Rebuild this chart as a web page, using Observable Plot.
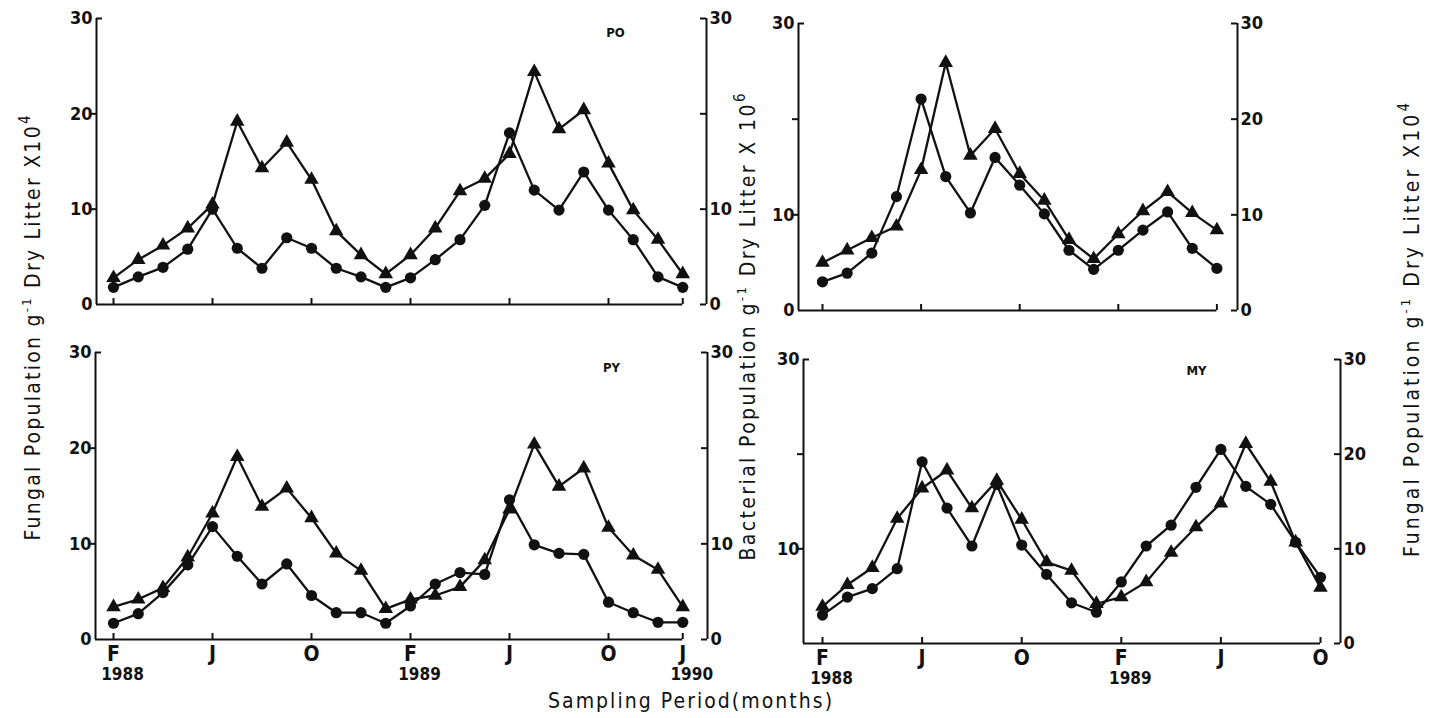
<!DOCTYPE html>
<html>
<head>
<meta charset="utf-8">
<script src="https://cdn.jsdelivr.net/npm/d3@7"></script>
<script src="https://cdn.jsdelivr.net/npm/@observablehq/plot@0.6"></script>
<style>
  html, body { margin: 0; padding: 0; background: #fff; }
  #figure { position: relative; width: 1436px; height: 718px; overflow: hidden; background: #fff; }
  #figure svg { position: absolute; overflow: visible; }
</style>
</head>
<body>
<div id="figure"></div>
<script>
const FONT = '"DejaVu Sans Condensed", "DejaVu Sans", sans-serif';
const INK = "#111";

// Monthly sampling dates, February 1988 to January 1990
const months = [
  "Feb 1988", "Mar 1988", "Apr 1988", "May 1988", "Jun 1988", "Jul 1988",
  "Aug 1988", "Sep 1988", "Oct 1988", "Nov 1988", "Dec 1988", "Jan 1989",
  "Feb 1989", "Mar 1989", "Apr 1989", "May 1989", "Jun 1989", "Jul 1989",
  "Aug 1989", "Sep 1989", "Oct 1989", "Nov 1989", "Dec 1989", "Jan 1990"
];

// Month ticks along the time axis
const tickMonths = ["Feb 1988", "Jun 1988", "Oct 1988", "Feb 1989", "Jun 1989", "Oct 1989", "Jan 1990"];
const tickLetters = ["F", "J", "O", "F", "J", "O", "J"];
const tickYears = ["1988", "", "", "1989", "", "", "1990"];

// Population values (circles and triangles) for each site
const poCircles   = [1.8, 2.9, 3.9, 5.8, 10.0, 5.9, 3.8, 7.0, 5.9, 3.8, 2.9, 1.8, 2.8, 4.7, 6.8, 10.4, 18.0, 12.0, 9.9, 13.9, 9.9, 6.8, 2.9, 1.8];
const poTriangles = [2.8, 4.7, 6.2, 8.0, 10.5, 19.2, 14.3, 17.0, 13.1, 7.7, 5.2, 3.2, 5.2, 8.0, 11.9, 13.2, 15.8, 24.4, 18.4, 20.4, 14.8, 9.9, 6.8, 3.2];

const pyCircles   = [1.7, 2.7, 4.9, 7.8, 11.8, 8.7, 5.8, 7.9, 4.6, 2.8, 2.8, 1.7, 3.5, 5.8, 7.0, 6.8, 14.6, 9.9, 9.0, 8.9, 3.9, 2.8, 1.8, 1.8];
const pyTriangles = [3.4, 4.2, 5.4, 8.6, 13.2, 19.1, 13.9, 15.8, 12.7, 9.0, 7.2, 3.2, 4.2, 4.6, 5.5, 8.3, 13.6, 20.4, 16.0, 17.9, 11.7, 8.8, 7.3, 3.4];

const siteCCircles   = [3.0, 3.9, 6.0, 11.9, 22.1, 14.0, 10.2, 16.0, 13.1, 10.1, 6.3, 4.3, 6.3, 8.4, 10.3, 6.5, 4.4];
const siteCTriangles = [5.0, 6.3, 7.6, 8.8, 14.7, 25.9, 16.2, 19.0, 14.3, 11.5, 7.4, 5.4, 8.0, 10.4, 12.4, 10.2, 8.4];

const myCircles   = [3.0, 4.9, 5.8, 7.9, 19.2, 14.3, 10.3, 16.8, 10.4, 7.3, 4.3, 3.3, 6.5, 10.3, 12.5, 16.5, 20.5, 16.6, 14.7, 10.7, 7.0];
const myTriangles = [3.9, 6.2, 8.0, 13.2, 16.4, 18.3, 14.3, 17.2, 13.1, 8.6, 7.7, 4.2, 4.9, 6.5, 9.6, 12.3, 14.8, 21.1, 17.1, 10.7, 5.9];

const yTicks = [0, 10, 20, 30];

const figure = document.getElementById("figure");

// One panel: a left and a right 0–30 axis around a monthly time axis.
// axes = [left axis x, y of 30, right axis x, y of 0] on the page.
function drawPanel(cfg) {
  const [L, T, R, B] = cfg.axes;
  const {first, step, circles, triangles, tag, tagAt, leftLabels, rightLabels, nTicks, showDates} = cfg;
  const mL = 40, mR = 40, mT = 14, mB = showDates ? 56 : 14;
  const x0 = (L - first) / step, x1 = (R - first) / step;
  const pxPerUnit = (B - T) / 30;
  const tLen = 6;
  const tickIdx = tickMonths.slice(0, nTicks).map(m => months.indexOf(m));
  const letters = tickLetters.slice(0, nTicks);
  const years = tickYears.slice(0, nTicks);
  const lastTick = tickIdx[tickIdx.length - 1];
  const circleRows = circles.map((v, i) => ({month: months[i], i, v}));
  const triangleRows = triangles.map((v, i) => ({month: months[i], i, v}));
  const stroke = {stroke: INK, strokeWidth: 2};
  const numberStyle = {fontSize: 18, fontWeight: "bold", fill: INK};

  const marks = [
    // frame lines
    Plot.ruleX([x0], {y1: 0, y2: 30, ...stroke}),
    Plot.ruleX([x1], {y1: 0, y2: 30, ...stroke}),
    Plot.ruleY([0], {x1: x0, x2: lastTick, ...stroke}),
    // left axis: outward ticks, inward serif on top
    Plot.ruleY([10, 20], {x1: x0 - tLen / step, x2: x0, ...stroke}),
    Plot.ruleY([30], {x1: x0, x2: x0 + tLen / step, ...stroke}),
    // right axis: inward ticks
    Plot.ruleY(yTicks, {x1: x1 - tLen / step, x2: x1, ...stroke}),
    // month ticks pointing up
    Plot.ruleX(tickIdx, {y1: 0, y2: tLen / pxPerUnit, ...stroke}),
    // axis numbers
    Plot.text(leftLabels, {x: x0, y: d => d, text: d => String(d), textAnchor: "end", dx: -4, ...numberStyle}),
    Plot.text(rightLabels, {x: x1, y: d => d, text: d => String(d), textAnchor: "start", dx: 3, ...numberStyle}),
    // series
    Plot.line(triangleRows, {x: "i", y: "v", stroke: INK, strokeWidth: 2.3}),
    Plot.line(circleRows, {x: "i", y: "v", stroke: INK, strokeWidth: 2.3}),
    Plot.dot(circleRows, {x: "i", y: "v", r: 5.6, fill: INK, stroke: null}),
    Plot.dot(triangleRows, {x: "i", y: "v", symbol: "triangle", r: 5.4, fill: INK, stroke: null})
  ];
  if (tag) {
    marks.push(Plot.text([tag], {frameAnchor: "top-left", dx: tagAt[0] - L, dy: tagAt[1] - T, fontSize: 13, fontWeight: "bold", fill: INK, textAnchor: "middle"}));
  }
  if (showDates) {
    marks.push(
      Plot.text(tickIdx, {x: d => d, y: 0, text: (d, i) => letters[i], dy: 15, fontSize: 21, fontWeight: "bold", fill: INK}),
      Plot.text(tickIdx, {x: d => d, y: 0, text: (d, i) => years[i], dy: 35, dx: 9, fontSize: 17, fontWeight: "bold", fill: INK})
    );
  }

  const svg = Plot.plot({
    width: R - L + mL + mR,
    height: B - T + mT + mB,
    marginLeft: mL, marginRight: mR, marginTop: mT, marginBottom: mB,
    x: {domain: [x0, x1], axis: null},
    y: {domain: [0, 30], axis: null},
    style: {background: "transparent", fontFamily: FONT, overflow: "visible"},
    marks
  });
  svg.style.left = (L - mL) + "px";
  svg.style.top = (T - mT) + "px";
  svg.style.maxWidth = "none";
  figure.appendChild(svg);
}

drawPanel({
  axes: [96, 18, 706, 304], first: 113, step: 24.75,
  circles: poCircles, triangles: poTriangles, tag: "PO", tagAt: [615, 27],
  leftLabels: [0, 10, 20, 30], rightLabels: [0, 10, 30], nTicks: 7, showDates: false
});
drawPanel({
  axes: [95, 352, 707, 639], first: 113, step: 24.75,
  circles: pyCircles, triangles: pyTriangles, tag: "PY", tagAt: [611, 362],
  leftLabels: [0, 10, 20, 30], rightLabels: [0, 10, 30], nTicks: 7, showDates: true
});
drawPanel({
  axes: [798, 23, 1237, 310], first: 822, step: 24.65,
  circles: siteCCircles, triangles: siteCTriangles, tag: null,
  leftLabels: [0, 10, 30], rightLabels: [0, 10, 20, 30], nTicks: 5, showDates: false
});
drawPanel({
  axes: [803, 359, 1340, 643], first: 822, step: 24.9,
  circles: myCircles, triangles: myTriangles, tag: "MY", tagAt: [1196, 365],
  leftLabels: [10, 30], rightLabels: [0, 10, 20, 30], nTicks: 6, showDates: true
});

// Shared axis titles and caption
const overlay = d3.create("svg")
  .attr("width", 1436).attr("height", 718)
  .style("left", "0px").style("top", "0px")
  .attr("font-family", FONT).attr("fill", INK);

function sideTitle(cx, cy, len, first, power) {
  const t = overlay.append("text")
    .attr("transform", `translate(${cx},${cy}) rotate(-90)`)
    .attr("text-anchor", "middle")
    .attr("font-size", 21)
    .attr("textLength", len)
    .attr("lengthAdjust", "spacing");
  t.append("tspan").attr("dy", "0.35em").text(first + " g");
  t.append("tspan").attr("dy", -9).attr("font-size", 13).text("-1");
  t.append("tspan").attr("dy", 9).text(" Dry Litter " + power[0]);
  t.append("tspan").attr("dy", -10).attr("font-size", 15).text(power[1]);
}
sideTitle(33, 328, 425, "Fungal Population", ["X10", "4"]);
sideTitle(748, 327, 467, "Bacterial Population", ["X 10", "6"]);
sideTitle(1412, 330, 454, "Fungal Population", ["X10", "4"]);

overlay.append("text")
  .attr("x", 690).attr("y", 708)
  .attr("text-anchor", "middle")
  .attr("font-size", 21)
  .attr("textLength", 284).attr("lengthAdjust", "spacing")
  .text("Sampling Period(months)");

figure.appendChild(overlay.node());
</script>
</body>
</html>
